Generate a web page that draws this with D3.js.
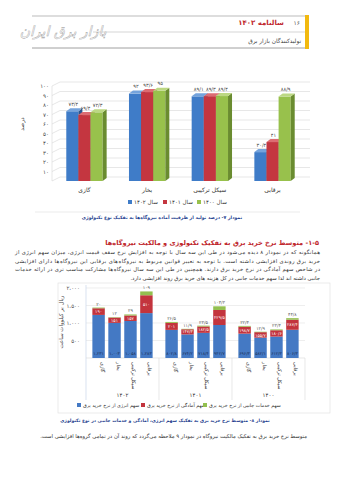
<!DOCTYPE html>
<html><head><meta charset="utf-8">
<script src="https://cdn.jsdelivr.net/npm/d3@7"></script>
<style>body{margin:0;background:#fff}svg{display:block;font-family:"DejaVu Sans","Noto Sans",sans-serif}</style>
</head><body>
<svg id="c" width="339" height="480"></svg>
<script>
// ---------- DATA ----------
const cats1 = ["گازی","بخار","سیکل ترکیبی","برقابی"];
const years1 = ["سال ۱۴۰۲","سال ۱۴۰۱","سال ۱۴۰۰"];
const util1402 = [73.4, 92, 89.1, 30.4];
const util1401 = [69.4, 93.6, 89.3, 41];
const util1400 = [72.3, 95, 89.4, 88.9];
const ticks1 = [10,20,30,40,50,60,70,80,90,100];

const groups2 = ["۱۴۰۲","۱۴۰۱","۱۴۰۰"];
const cats2 = ["گازی","بخار","سیکل ترکیبی","برقابی"];
const energyShare = [1231,1003,1058,1283, 802.8,674.2,718.4,942.7, 696.3,582.1,612.3,806.3];
const readyShare  = [190,151,157,510, 201,147.3,182.5,429.5, 198.7,155.7,180.6,287.4];
const serviceShare= [20,12,29,109, 26.5,11.9,23.5,104.3, 22.4,12.9,23.4,44.8];
const ticks2 = [500,1000,1500,2000];
const series2 = ["سهم انرژی از نرخ خرید برق","سهم آمادگی از نرخ خرید برق","سهم خدمات جانبی از نرخ خرید برق"];

// ---------- helpers ----------
const svg = d3.select("#c");
const FA="۰۱۲۳۴۵۶۷۸۹";
function fa(n){
  let s = (typeof n==="number") ? (Number.isInteger(n) ? d3.format(",")(n) : String(n)) : String(n);
  return s.replace(/[0-9]/g,d=>FA[d]).replace(/\./g,"/").replace(/,/g,"،");
}
function rtext(g,x,y,str,size,align,opts={}){
  const t=g.append("text").attr("x",x).attr("y",y).attr("font-size",size).text(str)
    .attr("direction","rtl").attr("fill",opts.fill||"#333");
  t.attr("text-anchor", align==="right"?"start":align==="left"?"end":"middle");
  if(opts.bold) t.attr("font-weight","bold");
  return t;
}
svg.append("rect").attr("width",339).attr("height",480).attr("fill","#fff");

// ---------- header ----------
const hd=svg.append("g");
hd.append("line").attr("x1",32).attr("x2",305).attr("y1",16).attr("y2",16).attr("stroke","#aaa").attr("stroke-width",0.8);
hd.append("line").attr("x1",93).attr("x2",305).attr("y1",32).attr("y2",32).attr("stroke","#bbb").attr("stroke-width",0.6);
hd.append("line").attr("x1",32).attr("x2",305).attr("y1",48).attr("y2",48).attr("stroke","#888").attr("stroke-width",0.8);
hd.append("rect").attr("x",305).attr("y",15).attr("width",4).attr("height",34).attr("fill","#f2b90f");
hd.append("text").attr("x",300).attr("y",25).attr("font-size",6).attr("text-anchor","end").attr("fill","#555").text("۱۶");
rtext(hd,284,25,"سالنامه ۱۴۰۲",7,"right",{fill:"#c0282d",bold:true});
rtext(hd,301,43,"تولیدکنندگان بازار برق",5.8,"right",{fill:"#444"});
rtext(hd,63,36,"بازار برق ایران",14,"center",{fill:"#fff"}).attr("stroke","#9a9a9a").attr("stroke-width",0.4).attr("font-style","italic");

// ---------- chart 1 (3D clustered) ----------
const c1=svg.append("g");
const axX=52, gridR=310, dx=8, dy=4;
const y1=d3.scaleLinear().domain([0,100]).range([181,86]);
const x1=d3.scaleBand().domain(cats1).range([55,302]).paddingInner(0.42).paddingOuter(0.18);
const xs1=d3.scaleBand().domain(years1).range([0,x1.bandwidth()]);
const frontC=["#3f7cc8","#c43640","#98c14c"], sideC=["#2b5690","#8c222a","#6a8c30"], topC=["#74a3dc","#dc6c72","#bcd883"];
[0].concat(ticks1).forEach(v=>{
  c1.append("line").attr("x1",axX).attr("y1",y1(v)).attr("x2",axX+dx).attr("y2",y1(v)-dy).attr("stroke","#d6d6d6").attr("stroke-width",0.6);
  c1.append("line").attr("x1",axX+dx).attr("y1",y1(v)-dy).attr("x2",gridR).attr("y2",y1(v)-dy).attr("stroke","#d6d6d6").attr("stroke-width",0.6);
});
c1.append("line").attr("x1",axX).attr("y1",y1(0)).attr("x2",axX).attr("y2",y1(100)).attr("stroke","#d6d6d6").attr("stroke-width",0.6);
c1.selectAll(".yl").data(ticks1).join("text").attr("x",axX-3).attr("y",d=>y1(d)+2).attr("font-size",5.5)
  .attr("text-anchor","end").attr("fill","#444").text(d=>fa(d));
c1.append("text").attr("transform",`translate(24,124) rotate(-90)`).attr("font-size",5.8).attr("text-anchor","middle")
  .attr("direction","rtl").attr("fill","#444").text("درصد");
const vals1=[util1402,util1401,util1400];
const bd=4, bh=3;
cats1.forEach((c,ci)=>{
  years1.forEach((yr,si)=>{
    const v=vals1[si][ci];
    const x=x1(c)+xs1(yr), w=xs1.bandwidth(), yt=y1(v), yb=y1(0);
    const g=c1.append("g");
    g.append("rect").attr("x",x).attr("y",yt).attr("width",w).attr("height",yb-yt).attr("fill",frontC[si]);
    g.append("path").attr("d",`M${x+w},${yt}L${x+w+bd},${yt-bh}L${x+w+bd},${yb-bh}L${x+w},${yb}Z`).attr("fill",sideC[si]);
    g.append("path").attr("d",`M${x},${yt}L${x+bd},${yt-bh}L${x+w+bd},${yt-bh}L${x+w},${yt}Z`).attr("fill",topC[si]);
    g.append("text").attr("x",x+w/2+1).attr("y",yt-bh-2.5).attr("font-size",5).attr("text-anchor","middle").attr("fill","#444").text(fa(v));
  });
  rtext(c1,x1(c)+x1.bandwidth()/2,192,c,6,"center",{fill:"#333"});
});
// legend 1
const lg1=[{x:128,c:frontC[0],t:years1[0]},{x:163,c:frontC[1],t:years1[1]},{x:197,c:frontC[2],t:years1[2]}];
lg1.forEach(d=>{
  c1.append("rect").attr("x",d.x).attr("y",200).attr("width",4).attr("height",4).attr("fill",d.c);
  rtext(c1,d.x+6,204,d.t,5.5,"left",{fill:"#333"}).attr("text-anchor","end");
});
svg.append("line").attr("x1",35).attr("x2",300).attr("y1",212).attr("y2",212).attr("stroke","#ddd").attr("stroke-width",0.6);
rtext(svg,162,219,"نمودار ۷- درصد تولید از ظرفیت آماده نیروگاه‌ها به تفکیک نوع تکنولوژی",4.6,"center",{fill:"#1f3f8f",bold:true});

// ---------- section text ----------
rtext(svg,319,245,"۱-۵- متوسط نرخ خرید برق به تفکیک تکنولوژی و مالکیت نیروگاه‌ها",6.6,"right",{fill:"#c0282d",bold:true});
const para=[
 "همانگونه که در نمودار ۸ دیده می‌شود در طی این سه سال با توجه به افزایش نرخ سقف قیمت انرژی، میزان سهم انرژی از",
 "خرید برق روندی افزایشی داشته است. با توجه به تغییر قوانین مربوط به نیروگاه‌های برقابی این نیروگاه‌ها دارای افزایشی",
 "در شاخص سهم آمادگی در نرخ خرید برق دارند. همچنین در طی این سه سال نیروگاه‌ها مشارکت مناسب تری در ارائه خدمات",
 "جانبی داشته اند لذا سهم خدمات جانبی در کل هزینه های خرید برق روند افزایشی دارد."];
para.forEach((l,i)=>{
  const t=rtext(svg,320,254+i*8.6,l,5.3,"right",{fill:"#333"});
  if(i<3) t.attr("textLength",305).attr("lengthAdjust","spacing");
});

// ---------- chart 2 (stacked) ----------
const c2=svg.append("g");
c2.append("rect").attr("x",58).attr("y",283).attr("width",272).attr("height",130).attr("fill","none").attr("stroke","#e2e2e2").attr("stroke-width",0.7);
const pL=86, pR=305;
const y2=d3.scaleLinear().domain([0,2000]).range([358,288]);
const xg=d3.scaleBand().domain(groups2).range([pL,pR]);
const xc=d3.scaleBand().domain(cats2).range([0,xg.bandwidth()]).paddingInner(0.22).paddingOuter(0.4);
ticks2.forEach(v=>c2.append("line").attr("x1",pL).attr("x2",pR).attr("y1",y2(v)).attr("y2",y2(v)).attr("stroke","#e3e3e3").attr("stroke-width",0.6));
c2.selectAll(".y2").data(ticks2).join("text").attr("x",80).attr("y",d=>y2(d)+2).attr("font-size",5.5)
  .attr("text-anchor","end").attr("fill","#555").text(d=>fa(d));
c2.append("line").attr("x1",pL).attr("x2",pL).attr("y1",285).attr("y2",400).attr("stroke","#c9d6ea").attr("stroke-width",0.7);
c2.append("line").attr("x1",pL).attr("x2",pR).attr("y1",y2(0)).attr("y2",y2(0)).attr("stroke","#d9d9d9").attr("stroke-width",0.6);
groups2.slice(1).forEach(g=>c2.append("line").attr("x1",xg(g)).attr("x2",xg(g)).attr("y1",y2(0)).attr("y2",400).attr("stroke","#d9d9d9").attr("stroke-width",0.6));
c2.append("line").attr("x1",pR).attr("x2",pR).attr("y1",y2(0)).attr("y2",400).attr("stroke","#d9d9d9").attr("stroke-width",0.6);
c2.append("text").attr("transform","translate(63,322) rotate(-90)").attr("font-size",5.5).attr("text-anchor","middle")
  .attr("direction","rtl").attr("fill","#444").text("ریال بر کیلووات ساعت");
const col2=["#4479c4","#c3343d","#93c04f"];
groups2.forEach((g,gi)=>{
  cats2.forEach((c,ci)=>{
    const i=gi*4+ci, e=energyShare[i], r=readyShare[i], s=serviceShare[i];
    const x=xg(g)+xc(c), w=xc.bandwidth();
    c2.append("rect").attr("x",x).attr("y",y2(e)).attr("width",w).attr("height",y2(0)-y2(e)).attr("fill",col2[0]);
    c2.append("rect").attr("x",x).attr("y",y2(e+r)).attr("width",w).attr("height",y2(e)-y2(e+r)).attr("fill",col2[1]);
    c2.append("rect").attr("x",x).attr("y",y2(e+r+s)).attr("width",w).attr("height",y2(e+r)-y2(e+r+s)).attr("fill",col2[2]);
    c2.append("text").attr("x",x+w/2).attr("y",y2(0)-3).attr("font-size",4.3).attr("text-anchor","middle").attr("fill","#1d2f55").text(fa(e));
    c2.append("text").attr("x",x+w/2).attr("y",(y2(e)+y2(e+r))/2+1.6).attr("font-size",4.3).attr("text-anchor","middle").attr("fill","#fff").text(fa(r));
    c2.append("text").attr("x",x+w/2).attr("y",y2(e+r+s)-2).attr("font-size",4.5).attr("text-anchor","middle").attr("fill","#555").text(fa(s));
    c2.append("text").attr("transform",`translate(${x+w/2+2},362) rotate(90)`).attr("font-size",5).attr("direction","rtl")
      .attr("text-anchor","end").attr("fill","#333").text(c);
  });
  c2.append("text").attr("x",xg(g)+xg.bandwidth()/2).attr("y",397).attr("font-size",5.5).attr("text-anchor","middle").attr("fill","#333").text(g);
});
const lg2=[{x:77,c:col2[0],t:series2[0]},{x:141,c:col2[1],t:series2[1]},{x:203,c:col2[2],t:series2[2]}];
lg2.forEach(d=>{
  c2.append("rect").attr("x",d.x).attr("y",403).attr("width",4).attr("height",4).attr("fill",d.c);
  rtext(c2,d.x+6,407,d.t,4.8,"left",{fill:"#333"}).attr("text-anchor","end");
});
rtext(svg,165,422,"نمودار ۸- متوسط نرخ خرید برق به تفکیک سهم انرژی، آمادگی و خدمات جانبی در نوع تکنولوژی",4.5,"center",{fill:"#1f3f8f",bold:true});
rtext(svg,307,438,"متوسط نرخ خرید برق به تفکیک مالکیت نیروگاه در نمودار ۹ ملاحظه می‌گردد که روند آن در تمامی گروه‌ها افزایشی است.",5.3,"right",{fill:"#333"});
</script>
</body></html>
